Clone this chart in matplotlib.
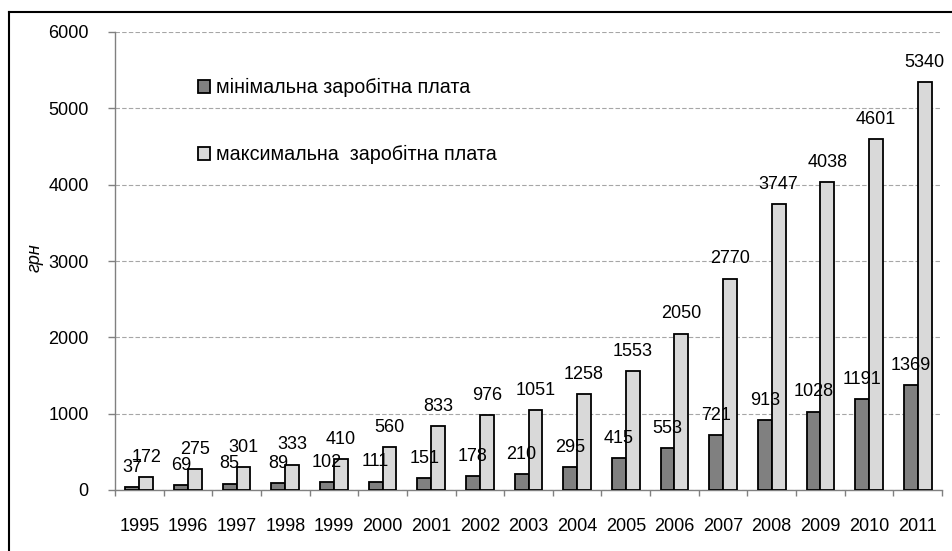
import matplotlib
matplotlib.use("Agg")
import matplotlib.pyplot as plt
from matplotlib.lines import Line2D
import numpy as np

years = ["1995", "1996", "1997", "1998", "1999", "2000", "2001", "2002", "2003",
         "2004", "2005", "2006", "2007", "2008", "2009", "2010", "2011"]
min_wage = [37, 69, 85, 89, 102, 111, 151, 178, 210, 295, 415, 553, 721, 913, 1028, 1191, 1369]
max_wage = [172, 275, 301, 333, 410, 560, 833, 976, 1051, 1258, 1553, 2050, 2770, 3747, 4038, 4601, 5340]
label_min = "мінімальна заробітна плата"
label_max = "максимальна  заробітна плата"
y_label = "грн"

plt.rcParams['font.family'] = ['Liberation Sans', 'DejaVu Sans']
FS = 13
FS_LEG = 14.2

fig = plt.figure(figsize=(9.52, 5.51), dpi=100)
ax = fig.add_axes([115/952, 1-490/551, (942-115)/952, (490-32)/551])

x = np.arange(len(years))
w = 0.285
b1 = ax.bar(x - w/2, min_wage, w, color="#808080", edgecolor="black", linewidth=1.3,
            label=label_min, zorder=3)
b2 = ax.bar(x + w/2, max_wage, w, color="#d9d9d9", edgecolor="black", linewidth=1.3,
            label=label_max, zorder=3)

for xi, v in zip(x - w/2, min_wage):
    ax.annotate(str(v), (xi, v), xytext=(0, 8), textcoords="offset points",
                ha="center", va="bottom", fontsize=FS, zorder=5)
for xi, v in zip(x + w/2, max_wage):
    ax.annotate(str(v), (xi, v), xytext=(0, 8), textcoords="offset points",
                ha="center", va="bottom", fontsize=FS, zorder=5)

ax.set_xlim(-0.5, len(years) - 0.5)
ax.set_ylim(0, 6000)
ax.set_yticks(np.arange(0, 6001, 1000))
ax.yaxis.grid(True, linestyle=(0, (4, 2)), color="#a6a6a6", linewidth=0.8, zorder=0)
ax.set_axisbelow(True)

ax.set_xticks(x)
ax.set_xticklabels(years, fontsize=FS)
ax.set_xticks(np.arange(-0.5, len(years), 1.0), minor=True)
ax.tick_params(axis="x", which="major", length=0, pad=20)
ax.tick_params(axis="x", which="minor", length=4, color="#808080", width=1)
ax.tick_params(axis="y", length=5, color="#808080", width=1, pad=14, labelsize=FS)

for s in ["top", "right"]:
    ax.spines[s].set_visible(False)
for s in ["left", "bottom"]:
    ax.spines[s].set_color("#808080")
    ax.spines[s].set_linewidth(1)

fig.text(35/952, 1-258/551, y_label, rotation=90, style="italic", fontsize=FS,
         ha="center", va="center")

ax.legend(handles=[b1, b2], loc="upper left", bbox_to_anchor=(198/952, 1-78/551),
          bbox_transform=fig.transFigure, frameon=False, fontsize=FS_LEG,
          borderpad=0, borderaxespad=0, labelspacing=2.45, handlelength=0.62,
          handleheight=0.62, handletextpad=0.3)

fig.add_artist(Line2D([9/952, 9/952], [0, 1-12/551], color="black", linewidth=1.5,
                      transform=fig.transFigure))
fig.add_artist(Line2D([9/952, 1], [1-12/551, 1-12/551], color="black", linewidth=1.5,
                      transform=fig.transFigure))

fig.savefig("out.png", dpi=100)
